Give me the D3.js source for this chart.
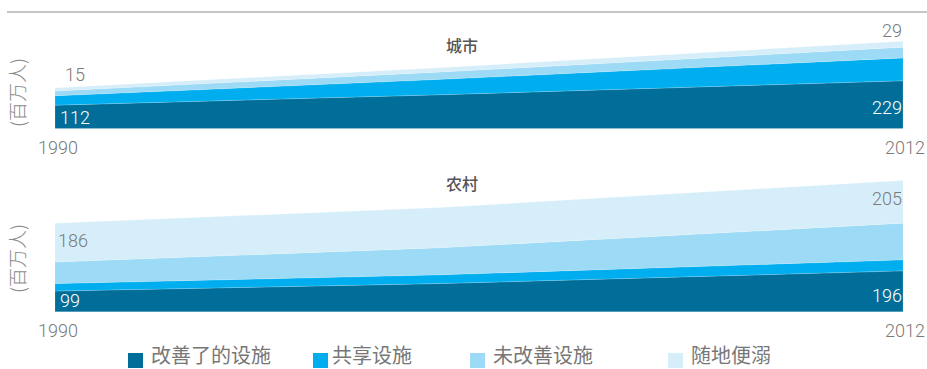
<!DOCTYPE html>
<html>
<head>
<meta charset="utf-8">
<script src="https://cdn.jsdelivr.net/npm/d3@7"></script>
<style>
  html, body { margin: 0; padding: 0; background: #fff; }
  svg { display: block; }
</style>
</head>
<body>
<svg id="chart" width="927" height="369"></svg>
<script>
// Sanitation coverage, millions of people
const years = [1990, 2000, 2012];
const categories = ["改善了的设施", "共享设施", "未改善设施", "随地便溺"];
const urbanImproved   = [112, 162, 229];
const urbanShared     = [45, 74, 110];
const urbanUnimproved = [23, 35, 51];
const urbanOpen       = [15, 21, 29];
const ruralImproved   = [99, 135, 196];
const ruralShared     = [36, 42, 53];
const ruralUnimproved = [103, 130, 176];
const ruralOpen       = [186, 193, 205];
const panelTitles = ["城市", "农村"];
const yearLabels = ["1990", "2012"];
const unitLabel = "(百万人)";

const colors = ["#006e99", "#00aeef", "#9cdaf6", "#d6eef9"];
const textGray = "#7a7a7a";
const numFont = "Roboto, 'Liberation Sans', sans-serif";
const cjkFont = "'Noto Sans CJK SC', sans-serif";

const svg = d3.select("#chart");

// rule across the top
svg.append("line")
  .attr("x1", 7).attr("x2", 927).attr("y1", 12).attr("y2", 12)
  .attr("stroke", "#c6c6c6").attr("stroke-width", 2);

const x = d3.scaleLinear().domain([1990, 2012]).range([55, 903]);

function buildRows(series) {
  return years.map((yr, i) => {
    const row = { year: yr };
    categories.forEach((c, k) => { row[c] = series[k][i]; });
    return row;
  });
}

const panels = [
  { title: panelTitles[0], series: [urbanImproved, urbanShared, urbanUnimproved, urbanOpen],
    base: 128.5, titleY: 52, unitY: 92.5, openInside: false, impLastOff: 15 },
  { title: panelTitles[1], series: [ruralImproved, ruralShared, ruralUnimproved, ruralOpen],
    base: 311.7, titleY: 190, unitY: 258.5, openInside: true, impLastOff: 10 }
];

const stack = d3.stack().keys(categories);

panels.forEach(p => {
  const y = d3.scaleLinear().domain([0, 700]).range([p.base, p.base - 700 / 4.8]);
  const rows = buildRows(p.series);
  const layers = stack(rows);
  const area = d3.area()
    .x(d => x(d.data.year))
    .y0(d => y(d[0]))
    .y1(d => y(d[1]));

  const g = svg.append("g");
  g.selectAll("path.layer")
    .data(layers)
    .join("path")
    .attr("class", "layer")
    .attr("d", area)
    .attr("fill", (d, i) => colors[i])
    .attr("stroke", "#ffffff")
    .attr("stroke-opacity", 0.25)
    .attr("stroke-width", 0.6);

  // panel title
  svg.append("text")
    .attr("x", 462).attr("y", p.titleY)
    .attr("text-anchor", "middle")
    .attr("font-family", cjkFont).attr("font-weight", 500)
    .attr("font-size", 16).attr("fill", "#555")
    .text(p.title);

  // unit label, rotated
  svg.append("text")
    .attr("transform", `translate(25,${p.unitY}) rotate(-90)`)
    .attr("text-anchor", "middle")
    .attr("font-family", cjkFont).attr("font-weight", 300)
    .attr("font-size", 19).attr("fill", "#8a8a8a")
    .text(unitLabel);

  // year labels
  svg.append("text")
    .attr("x", 58).attr("y", p.base + 25)
    .attr("text-anchor", "middle")
    .attr("font-family", numFont).attr("font-weight", 300)
    .attr("font-size", 18).attr("fill", textGray)
    .text(yearLabels[0]);
  svg.append("text")
    .attr("x", 925).attr("y", p.base + 25)
    .attr("text-anchor", "end")
    .attr("font-family", numFont).attr("font-weight", 300)
    .attr("font-size", 18).attr("fill", textGray)
    .text(yearLabels[1]);

  // value labels: improved at the bottom (white), open defecation at its layer
  const first = 0, last = years.length - 1;
  const imp = layers[0], open = layers[3];
  svg.append("text")
    .attr("x", x(years[first]) + 5).attr("y", p.base - 5)
    .attr("font-family", numFont).attr("font-weight", 300)
    .attr("font-size", 18).attr("fill", "#fff")
    .text(imp[first].data[categories[0]]);
  svg.append("text")
    .attr("x", x(years[last]) - 1).attr("y", p.base - p.impLastOff)
    .attr("text-anchor", "end")
    .attr("font-family", numFont).attr("font-weight", 300)
    .attr("font-size", 18).attr("fill", "#fff")
    .text(imp[last].data[categories[0]]);

  const openFirst = open[first].data[categories[3]];
  const openLast = open[last].data[categories[3]];
  const inside = p.openInside;
  svg.append("text")
    .attr("x", inside ? x(years[first]) + 3 : x(years[first]) + 10)
    .attr("y", inside ? y(open[first][1]) + 24 : y(open[first][1]) - 7)
    .attr("font-family", numFont).attr("font-weight", 300)
    .attr("font-size", 18).attr("fill", textGray)
    .text(openFirst);
  svg.append("text")
    .attr("x", x(years[last]) - 1)
    .attr("y", inside ? y(open[last][1]) + 25 : y(open[last][1]) - 4)
    .attr("text-anchor", "end")
    .attr("font-family", numFont).attr("font-weight", 300)
    .attr("font-size", 18).attr("fill", textGray)
    .text(openLast);
});

// legend
const legendSwatchX = [128, 313, 470, 668];
const legendTextX = [151, 332, 493, 691];
const legend = svg.append("g");
categories.forEach((c, i) => {
  legend.append("rect")
    .attr("x", legendSwatchX[i]).attr("y", 353)
    .attr("width", 15).attr("height", 15)
    .attr("fill", colors[i]);
  legend.append("text")
    .attr("x", legendTextX[i]).attr("y", 363)
    .attr("font-family", cjkFont).attr("font-weight", 400)
    .attr("font-size", 20).attr("fill", "#777")
    .text(c);
});
</script>
</body>
</html>
